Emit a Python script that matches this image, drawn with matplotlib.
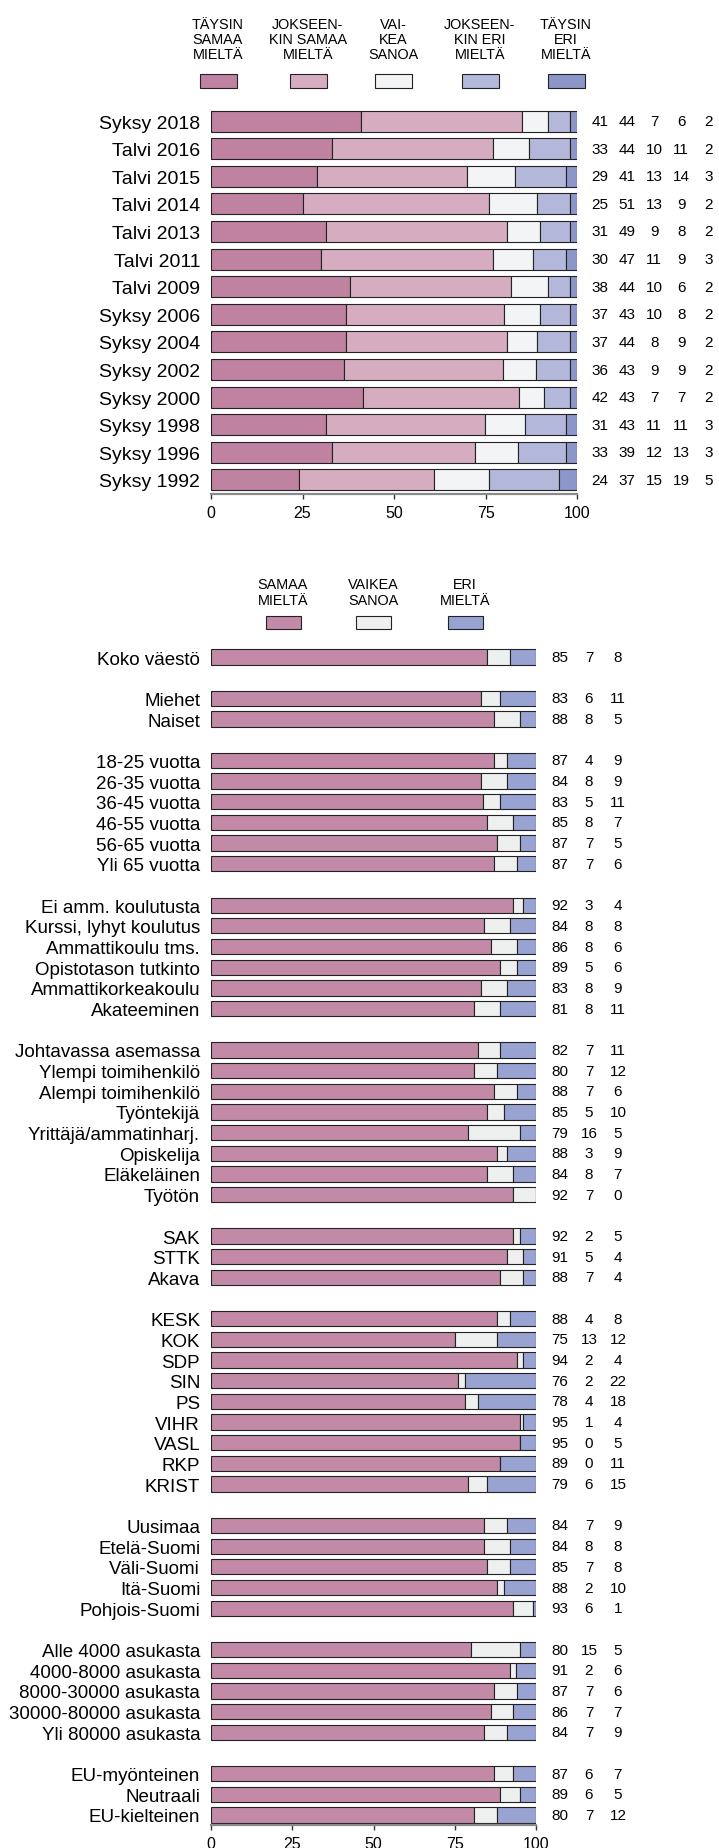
# Stacked percentage bars: time series on top, background groups below

import numpy as np
import matplotlib
matplotlib.use('Agg')
import matplotlib.pyplot as plt
from matplotlib.patches import Rectangle

plt.rcParams['font.family'] = ['Liberation Sans', 'DejaVu Sans']

# ---- top chart data ----
years = ['Syksy 2018', 'Talvi 2016', 'Talvi 2015', 'Talvi 2014', 'Talvi 2013',
         'Talvi 2011', 'Talvi 2009', 'Syksy 2006', 'Syksy 2004', 'Syksy 2002',
         'Syksy 2000', 'Syksy 1998', 'Syksy 1996', 'Syksy 1992']
fully_agree = [41, 33, 29, 25, 31, 30, 38, 37, 37, 36, 42, 31, 33, 24]
somewhat_agree = [44, 44, 41, 51, 49, 47, 44, 43, 44, 43, 43, 43, 39, 37]
hard_to_say = [7, 10, 13, 13, 9, 11, 10, 10, 8, 9, 7, 11, 12, 15]
somewhat_disagree = [6, 11, 14, 9, 8, 9, 6, 8, 9, 9, 7, 11, 13, 19]
fully_disagree = [2, 2, 3, 2, 2, 3, 2, 2, 2, 2, 2, 3, 3, 5]

top_legend = ['TÄYSIN\nSAMAA\nMIELTÄ', 'JOKSEEN-\nKIN SAMAA\nMIELTÄ', 'VAI-\nKEA\nSANOA',
              'JOKSEEN-\nKIN ERI\nMIELTÄ', 'TÄYSIN\nERI\nMIELTÄ']
top_colors = ['#BF82A0', '#D6ADC0', '#F3F4F6', '#B3B8DA', '#8C96C8']

# ---- bottom chart data ----
groups = ['Koko väestö',
          'Miehet', 'Naiset',
          '18-25 vuotta', '26-35 vuotta', '36-45 vuotta', '46-55 vuotta', '56-65 vuotta', 'Yli 65 vuotta',
          'Ei amm. koulutusta', 'Kurssi, lyhyt koulutus', 'Ammattikoulu tms.', 'Opistotason tutkinto',
          'Ammattikorkeakoulu', 'Akateeminen',
          'Johtavassa asemassa', 'Ylempi toimihenkilö', 'Alempi toimihenkilö', 'Työntekijä',
          'Yrittäjä/ammatinharj.', 'Opiskelija', 'Eläkeläinen', 'Työtön',
          'SAK', 'STTK', 'Akava',
          'KESK', 'KOK', 'SDP', 'SIN', 'PS', 'VIHR', 'VASL', 'RKP', 'KRIST',
          'Uusimaa', 'Etelä-Suomi', 'Väli-Suomi', 'Itä-Suomi', 'Pohjois-Suomi',
          'Alle 4000 asukasta', '4000-8000 asukasta', '8000-30000 asukasta',
          '30000-80000 asukasta', 'Yli 80000 asukasta',
          'EU-myönteinen', 'Neutraali', 'EU-kielteinen']
group_sizes = [1, 2, 6, 6, 8, 3, 9, 5, 5, 3]
agree = [85, 83, 88, 87, 84, 83, 85, 87, 87, 92, 84, 86, 89, 83, 81,
         82, 80, 88, 85, 79, 88, 84, 92, 92, 91, 88,
         88, 75, 94, 76, 78, 95, 95, 89, 79, 84, 84, 85, 88, 93,
         80, 91, 87, 86, 84, 87, 89, 80]
unsure = [7, 6, 8, 4, 8, 5, 8, 7, 7, 3, 8, 8, 5, 8, 8,
          7, 7, 7, 5, 16, 3, 8, 7, 2, 5, 7,
          4, 13, 2, 2, 4, 1, 0, 0, 6, 7, 8, 7, 2, 6,
          15, 2, 7, 7, 7, 6, 6, 7]
disagree = [8, 11, 5, 9, 9, 11, 7, 5, 6, 4, 8, 6, 6, 9, 11,
            11, 12, 6, 10, 5, 9, 7, 0, 5, 4, 4,
            8, 12, 4, 22, 18, 4, 5, 11, 15, 9, 8, 8, 10, 1,
            5, 6, 6, 7, 9, 7, 5, 12]

bottom_legend = ['SAMAA\nMIELTÄ', 'VAIKEA\nSANOA', 'ERI\nMIELTÄ']
bottom_colors = ['#C28AA6', '#EEEFEF', '#99A3D1']

W, H = 719, 1849
fig = plt.figure(figsize=(W / 100, H / 100), dpi=100)


def px_axes(left, top, right, bottom):
    return fig.add_axes([left / W, 1 - bottom / H, (right - left) / W, (bottom - top) / H])


def style_axis(ax, fontsize):
    ax.set_xlim(0, 100)
    ax.set_xticks([0, 25, 50, 75, 100])
    for s in ['top', 'right', 'left']:
        ax.spines[s].set_visible(False)
    ax.spines['bottom'].set_color('#8a8a8a')
    ax.spines['bottom'].set_linewidth(1.6)
    ax.tick_params(axis='x', length=3.8, width=1, color='#333333', labelsize=11.5, pad=4)
    ax.tick_params(axis='y', length=0, pad=7.8, labelsize=fontsize)


def stacked(ax, pos, series, colors, height):
    vals = np.array(series, dtype=float)
    vals = vals / vals.sum(axis=0) * 100
    left = np.zeros(vals.shape[1])
    for v, c in zip(vals, colors):
        ax.barh(pos, v, left=left, height=height, color=c, edgecolor='#222222', linewidth=0.8)
        left += v


# ---- top chart ----
ax1 = px_axes(211, 108.2, 577, 494.8)
n1 = len(years)
pos1 = np.arange(n1)
top_series = [fully_agree, somewhat_agree, hard_to_say, somewhat_disagree, fully_disagree]
stacked(ax1, pos1, top_series, top_colors, 0.76)
ax1.set_ylim(n1 - 0.5, -0.5)
ax1.set_yticks(pos1, years)
style_axis(ax1, 14)
for k, s in enumerate(top_series):
    for i, v in enumerate(s):
        ax1.text(106.3 + 7.4 * k, i, str(v), ha='center', va='center', fontsize=11, clip_on=False)

# ---- bottom chart ----
pos2 = []
row = 0
for g in group_sizes:
    pos2.extend(range(row, row + g))
    row += g + 1
n2 = row - 1
ax2 = px_axes(211, 647.7, 536, 1826.3)
bottom_series = [agree, unsure, disagree]
stacked(ax2, pos2, bottom_series, bottom_colors, 0.74)
ax2.set_ylim(n2 - 0.5, -0.5)
ax2.set_yticks(pos2, groups)
style_axis(ax2, 13.5)
for k, s in enumerate(bottom_series):
    for p, v in zip(pos2, s):
        ax2.text(107.4 + 8.9 * k, p, str(v), ha='center', va='center', fontsize=11, clip_on=False)

# ---- legends (drawn in pixel space) ----
lg = fig.add_axes([0, 0, 1, 1], zorder=-1)
lg.set_xlim(0, W)
lg.set_ylim(H, 0)
lg.axis('off')

for cx, lab, c in zip([218, 308, 393, 480, 566], top_legend, top_colors):
    lg.text(cx, 40, lab, ha='center', va='center', fontsize=10.4, linespacing=1.12)
    lg.add_patch(Rectangle((cx - 18.5, 75), 37, 14, facecolor=c, edgecolor='#222222', linewidth=0.8))

for cx, lab, c in zip([283, 373, 465], bottom_legend, bottom_colors):
    lg.text(cx, 593, lab, ha='center', va='center', fontsize=10.4, linespacing=1.12)
    lg.add_patch(Rectangle((cx - 17.5, 617), 35, 13, facecolor=c, edgecolor='#222222', linewidth=0.8))

fig.savefig('out.png', dpi=100)
